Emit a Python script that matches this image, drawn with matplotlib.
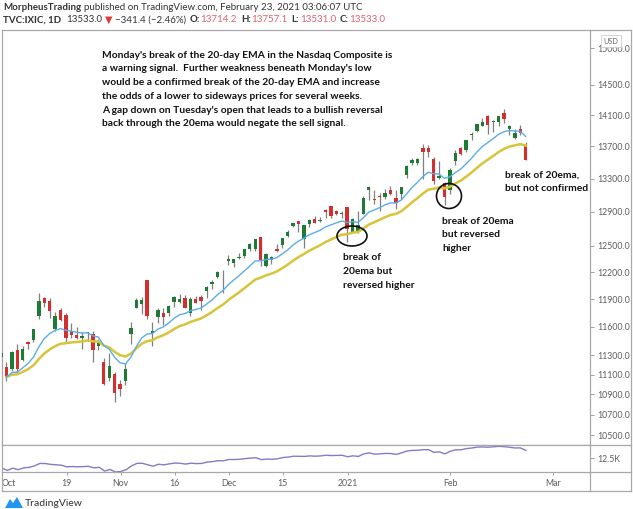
import numpy as np
import pandas as pd
import matplotlib
matplotlib.use("Agg")
import matplotlib.pyplot as plt
from matplotlib.patches import Ellipse, Polygon
from matplotlib.lines import Line2D
from matplotlib.ticker import FixedLocator, FuncFormatter, NullLocator

plt.rcParams['font.family'] = ['Lato', 'DejaVu Sans']

# Nasdaq Composite daily bars, 1 Oct 2020 .. 22 Feb 2021 (one entry per trading day)
opens = [11287, 11184, 11160, 11356, 11249, 11444, 11458, 11715, 11913, 11885,
         11583, 11778, 11727, 11561, 11518, 11480, 11533, 11523, 11400, 11229,
         11071, 11103, 11010, 11038, 11528, 11806, 11847, 12115, 11530, 11706,
         11748, 11752, 11869, 11865, 11908, 11750, 11902, 11920, 11986, 12071,
         12141, 12201, 12322, 12307, 12366, 12378, 12467, 12463, 12608, 12274,
         12342, 12462, 12513, 12618, 12729, 12786, 12577, 12749, 12808, 12791,
         12914, 12965, 12906, 12877, 12958, 12665, 12666, 12867, 13160, 13051,
         13080, 13072, 13155, 13066, 13110, 13339, 13490, 13495, 13683, 13683,
         13541, 13310, 13248, 13160, 13513, 13685, 13649, 13849, 13900, 13960,
         14087, 14014, 14008, 14124, 13926, 13812, 13915, 13714.2]
highs = [11386, 11236, 11341, 11424, 11396, 11450, 11580, 11967, 11923, 11911,
         11761, 11803, 11747, 11644, 11599, 11549, 11548, 11558, 11467, 11268,
         11329, 11124, 11046, 11216, 11649, 11915, 11920, 12116, 11650, 11807,
         11801, 11836, 11939, 11962, 11943, 11927, 11933, 11943, 12046, 12108,
         12217, 12226, 12390, 12349, 12413, 12464, 12533, 12584, 12608, 12415,
         12378, 12520, 12595, 12679, 12764, 12793, 12743, 12812, 12845, 12833,
         12930, 12973, 12924, 12902, 12958, 12828, 12909, 13090, 13208, 13160,
         13127, 13170, 13205, 13159, 13200, 13473, 13549, 13560, 13728, 13716,
         13569, 13515, 13263, 13424, 13653, 13696, 13777, 13877, 13987, 14058,
         14097, 14034, 14095, 14175, 13971, 13915, 13967, 13757.1]
lows = [11253, 11040, 11140, 11121, 11246, 11369, 11435, 11682, 11813, 11700,
        11553, 11667, 11438, 11485, 11474, 11362, 11448, 11226, 11359, 11000,
        11038, 10822, 10880, 11000, 11415, 11801, 11735, 11689, 11400, 11647,
        11617, 11713, 11813, 11857, 11800, 11718, 11855, 11780, 11915, 12008,
        12138, 11973, 12281, 12258, 12346, 12361, 12439, 12445, 12266, 12260,
        12290, 12432, 12476, 12601, 12715, 12655, 12473, 12717, 12770, 12774,
        12827, 12821, 12857, 12821, 12543, 12665, 12649, 12867, 13036, 12987,
        12911, 13051, 13104, 12937, 13049, 13308, 13470, 13472, 13297, 13563,
        13232, 13300, 12985, 13109, 13469, 13586, 13626, 13783, 13880, 13958,
        13854, 13877, 13958, 14003, 13849, 13788, 13846, 13531.0]
closes = [11326, 11075, 11332, 11154, 11364, 11420, 11579, 11876, 11863, 11768,
          11713, 11671, 11478, 11516, 11484, 11506, 11548, 11358, 11431, 11004,
          11185, 10911, 10957, 11160, 11590, 11890, 11895, 11713, 11553, 11786,
          11709, 11829, 11924, 11899, 11801, 11904, 11854, 11880, 12036, 12094,
          12205, 12198, 12355, 12349, 12377, 12464, 12519, 12582, 12338, 12405,
          12377, 12440, 12595, 12658, 12764, 12755, 12742, 12807, 12771, 12804,
          12899, 12850, 12870, 12888, 12698, 12818, 12740, 13067, 13201, 13036,
          13072, 13128, 13112, 12998, 13197, 13457, 13530, 13543, 13635, 13626,
          13270, 13337, 13070, 13403, 13612, 13610, 13777, 13856, 13987, 14007,
          13972, 14025, 14095, 14047, 13965, 13865, 13874, 13533.0]

price_ticks = [10500, 10700, 10900, 11100, 11300, 11600, 11900, 12200, 12500,
               12900, 13300, 13700, 14100, 14500, 15000]
date_ticks = [0, 12, 22, 32, 42, 52, 64, 83, 102]
date_labels = ["Oct", "19", "Nov", "16", "Dec", "15", "2021", "Feb", "Mar"]

W, H = 633, 509
def fx(x): return x / W
def fy(y): return 1 - y / H

fig = plt.figure(figsize=(W / 100, H / 100), dpi=100)
ax = fig.add_axes([fx(2), fy(445), (590 - 2) / W, (445 - 30) / H])
ax2 = fig.add_axes([fx(2), fy(472), (590 - 2) / W, (472 - 445) / H])

o = np.array(opens, float)
h = np.array(highs, float)
l = np.array(lows, float)
c = np.array(closes, float)
x = np.arange(len(c))
up = c >= o
body_col = np.where(up, '#1f7a35', '#d32f2f')

# candles
ax.vlines(x, l, h, color='#808080', lw=0.9, zorder=2)
lo = np.minimum(o, c)
hi = np.maximum(o, c)
hgt = np.maximum(hi - lo, lo * 0.0008)
ax.bar(x, hgt, bottom=lo, width=0.62, color=body_col, zorder=3)

# EMAs (line starts with the second bar, as on the chart)
ema10 = pd.Series(c[1:]).ewm(span=10, adjust=False).mean()
ema20 = pd.Series(c[1:]).ewm(span=20, adjust=False).mean()
ax.plot(x[1:], ema20, color='#d6c53a', lw=1.8, zorder=4)
ax.plot(x[1:], ema10, color='#5aaee8', lw=1.0, zorder=4)

ax.set_yscale('log')
ax.set_ylim(10404, 15251)
ax.set_xlim(0.18, 108.9)
ax.yaxis.tick_right()
ax.yaxis.set_major_locator(FixedLocator(price_ticks))
ax.yaxis.set_major_formatter(FuncFormatter(lambda v, p: f"{v:.1f}"))
ax.yaxis.set_minor_locator(NullLocator())
ax.tick_params(axis='y', length=3, width=0.7, colors='#a0a0a0',
               labelcolor='#5d5d5d', labelsize=6.3, pad=2)
ax.tick_params(axis='x', bottom=False, labelbottom=False)

# lower panel line
ax2.plot(x, c, color='#8a78c4', lw=1.0)
ax2.set_yscale('log')
ax2.set_ylim(10902, 14282)
ax2.set_xlim(0.18, 108.9)
ax2.yaxis.tick_right()
ax2.yaxis.set_major_locator(FixedLocator([12500]))
ax2.yaxis.set_major_formatter(FuncFormatter(lambda v, p: "12.5K"))
ax2.yaxis.set_minor_locator(NullLocator())
ax2.tick_params(axis='y', length=3, width=0.7, colors='#a0a0a0',
                labelcolor='#5d5d5d', labelsize=6.3, pad=2)
ax2.set_xticks(date_ticks)
ax2.set_xticklabels(date_labels)
ax2.tick_params(axis='x', length=2.2, width=0.7, colors='#a0a0a0',
                labelsize=6.3, labelcolor='#5d5d5d', pad=2.5)
# first label sits on the left edge; keep it inside the frame
ax2.get_xticklabels()[0].set_horizontalalignment('left')

for a in (ax, ax2):
    for s in a.spines.values():
        s.set_color('#a8a8a8')
        s.set_linewidth(0.9)

def fline(x0, y0, x1, y1):
    fig.add_artist(Line2D([fx(x0), fx(x1)], [fy(y0), fy(y1)],
                          transform=fig.transFigure, color='#a8a8a8', lw=0.9))

fline(590, 30, 631, 30)
fline(590, 445, 631, 445)
fline(590, 472, 631, 472)
fline(631, 30, 631, 491)
fline(2, 491, 631, 491)
fline(2, 472, 2, 491)
fline(590, 472, 590, 491)

fig.text(fx(611), fy(41), "USD", fontsize=5.2, color='#666666', ha='center', va='center',
         bbox=dict(boxstyle='square,pad=0.35', fc='white', ec='#cfcfcf', lw=0.6))

# header
renderer = fig.canvas.get_renderer()
def seq(x0, y0, parts, size):
    xx = x0
    for s, col, wt, gap in parts:
        t = fig.text(fx(xx), fy(y0), s, fontsize=size, color=col, fontweight=wt,
                     ha='left', va='center')
        xx += t.get_window_extent(renderer).width + gap

dark = '#333333'
red = '#e0606a'
seq(3, 8, [("MorpheusTrading", dark, 'bold', 2.5),
           ("published on TradingView.com, February 23, 2021 03:06:07 UTC", dark, 'normal', 0)], 7)
seq(3, 20, [("TVC:IXIC, 1D", dark, 'bold', 5),
            ("13533.0", dark, 'normal', 2.5),
            ("\u25bc", '#e53935', 'normal', 2.5),
            ("\u2212341.4 (\u22122.46%)", dark, 'normal', 4),
            ("O:", dark, 'bold', 0.5), ("13714.2", red, 'normal', 4),
            ("H:", dark, 'bold', 0.5), ("13757.1", red, 'normal', 4),
            ("L:", dark, 'bold', 0.5), ("13531.0", red, 'normal', 4),
            ("C:", dark, 'bold', 0.5), ("13533.0", red, 'normal', 0)], 7)

# annotations
note = ["Monday's break of the 20-day EMA in the Nasdaq Composite is",
        "a warning signal.  Further weakness beneath Monday's low",
        "would be a confirmed break of the 20-day EMA and increase",
        "the odds of a lower to sideways prices for several weeks.",
        "A gap down on Tuesday's open that leads to a bullish reversal",
        "back through the 20ema would negate the sell signal."]

def block(x0, y0, lines):
    for k, s in enumerate(lines):
        fig.text(fx(x0), fy(y0 + 13.8 * k), s, fontsize=7.35, fontweight='bold',
                 color='#111111', ha='left', va='center')

block(102, 55, note)
block(343, 258, ["break of", "20ema but", "reversed higher"])
block(442, 221, ["break of 20ema", "but reversed", "higher"])
block(505, 175, ["break of 20ema,", "but not confirmed"])

# circles marking the breaks
def ell(cx, cy, w, hh):
    ax.add_patch(Ellipse(((cx - 2) / 588, (445 - cy) / 415), w / 588, hh / 415,
                         transform=ax.transAxes, fill=False, ec='#111111', lw=1.2, zorder=6))

ell(352, 236, 30, 20)
ell(449, 196, 25, 25)

# footer logo
fig.add_artist(Polygon([(fx(5), fy(508)), (fx(10), fy(499)), (fx(13), fy(503)),
                        (fx(17), fy(497)), (fx(23), fy(508))],
                       closed=True, transform=fig.transFigure, fc='#2196f3', ec='none'))
fig.text(fx(25), fy(503), "TradingView", fontsize=7.5, color='#333333', ha='left', va='center')

fig.savefig("out.png", dpi=100)
